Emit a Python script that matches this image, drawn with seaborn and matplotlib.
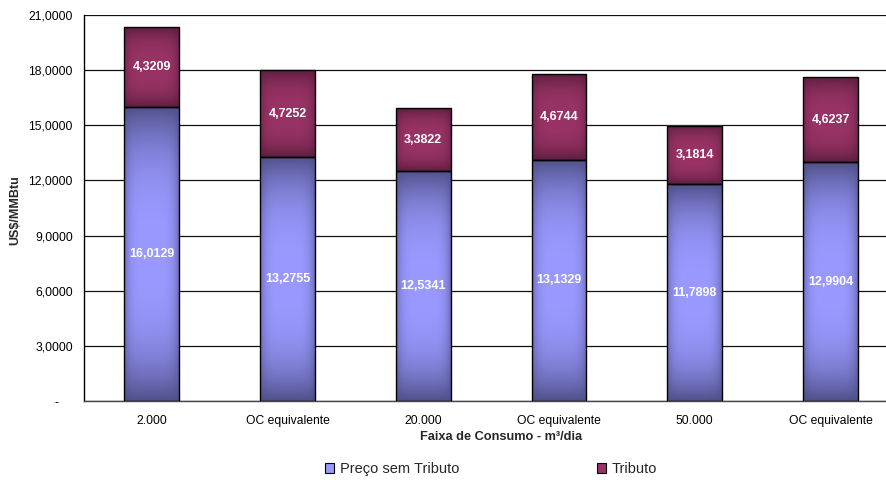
import numpy as np
import pandas as pd
import matplotlib
matplotlib.use("Agg")
import matplotlib.pyplot as plt
import seaborn as sns
from matplotlib.patches import Patch
from matplotlib.colors import to_rgb

# Price components per consumption band (US$/MMBtu)
categories = ["2.000", "OC equivalente", "20.000", "OC equivalente", "50.000", "OC equivalente"]
preco_sem_tributo = [16.0129, 13.2755, 12.5341, 13.1329, 11.7898, 12.9904]
tributo = [4.3209, 4.7252, 3.3822, 4.6744, 3.1814, 4.6237]
y_ticks = [0, 3, 6, 9, 12, 15, 18, 21]
series_names = ["Preço sem Tributo", "Tributo"]

BLUE_LIGHT, BLUE_DARK = "#9999ff", "#4c4c84"
RED_LIGHT, RED_DARK = "#993366", "#5a1d3d"

sns.set_theme(style="white")
plt.rcParams["font.family"] = ["Liberation Sans", "DejaVu Sans"]

df = pd.DataFrame({
    "pos": list(range(len(categories))),
    "base": preco_sem_tributo,
    "tax": tributo,
})

fig = plt.figure(figsize=(8.87, 4.80), dpi=100)
ax = fig.add_axes([84 / 887, 79 / 480, (898.3 - 84) / 887, 386 / 480])

sns.barplot(data=df, x="pos", y="base", order=df["pos"].tolist(), width=0.405,
            color=BLUE_LIGHT, edgecolor="black", linewidth=1.0, ax=ax, zorder=3)
sns.barplot(data=df, x="pos", y="tax", order=df["pos"].tolist(), width=0.405,
            bottom=df["base"].values, color=RED_LIGHT, edgecolor="black",
            linewidth=1.0, ax=ax, zorder=3)


def shade(ax, patch, light, dark):
    """Pillow-style gradient: darker towards the edges of each segment."""
    x0, y0 = patch.get_x(), patch.get_y()
    w, h = patch.get_width(), patch.get_height()
    v = np.linspace(0, 1, 300)[:, None]
    u = np.linspace(0, 1, 80)[None, :]
    tv = np.abs(2 * v - 1)
    tu = np.abs(2 * u - 1)
    d = 1 - (1 - 0.95 * tv ** 3.0) * (1 - 0.55 * tu ** 5)
    lc, dc = np.array(to_rgb(light)), np.array(to_rgb(dark))
    rgb = lc * (1 - d)[..., None] + dc * d[..., None]
    ax.imshow(rgb, extent=[x0, x0 + w, y0, y0 + h], origin="lower",
              aspect="auto", interpolation="bilinear", zorder=2.5)
    patch.set_facecolor("none")


for patch in ax.containers[0]:
    shade(ax, patch, BLUE_LIGHT, BLUE_DARK)
for patch in ax.containers[1]:
    shade(ax, patch, RED_LIGHT, RED_DARK)

# value labels inside each segment
for i, (b, t) in enumerate(zip(preco_sem_tributo, tributo)):
    for val, mid in ((b, b / 2), (t, b + t / 2)):
        ax.text(i, mid, f"{val:.4f}".replace(".", ","), ha="center", va="center",
                color="white", fontsize=9, fontweight="bold", zorder=5)

ax.set_xlim(-0.5, 5.5)
ax.set_ylim(0, 21)
ax.set_yticks(y_ticks)
ax.set_yticklabels(["-    " if v == 0 else f"{v:.4f}".replace(".", ",") for v in y_ticks],
                   fontsize=8.7)
ax.set_xticks(range(len(categories)))
ax.set_xticklabels(categories, fontsize=8.7)
ax.set_xticks(np.arange(-0.5, 6.0, 1.0), minor=True)
ax.tick_params(axis="x", which="major", length=0, pad=10, colors="black")
ax.tick_params(axis="x", which="minor", length=4, width=1, direction="out", color="#333333")
ax.tick_params(axis="y", length=4, width=1, direction="out", pad=4, colors="black")
ax.set_xlabel("")
ax.set_ylabel("")

ax.set_axisbelow(True)
ax.yaxis.grid(True, color="#111111", linewidth=0.9)
ax.xaxis.grid(False)
for side in ("top", "right"):
    ax.spines[side].set_visible(False)
ax.spines["left"].set_color("black")
ax.spines["left"].set_linewidth(1.0)
ax.spines["bottom"].set_color("#444444")
ax.spines["bottom"].set_linewidth(1.0)

fig.text(15 / 887, 1 - 210 / 480, "US$/MMBtu", rotation=90, ha="center", va="center",
         fontsize=9, fontweight="bold")
fig.text(501 / 887, 1 - 437 / 480, "Faixa de Consumo - m³/dia", ha="center",
         va="center", fontsize=9.2, fontweight="bold")

handles = [Patch(facecolor=BLUE_LIGHT, edgecolor="black", linewidth=0.8),
           Patch(facecolor=RED_LIGHT, edgecolor="black", linewidth=0.8)]
fig.legend(handles, series_names, loc="center left", bbox_to_anchor=(325 / 887, 1 - 469 / 480),
           ncol=2, frameon=False, fontsize=10.5, handlelength=0.65, handleheight=0.65,
           handletextpad=0.4, columnspacing=9.4, borderpad=0, borderaxespad=0)

fig.savefig("out.png", dpi=100)
